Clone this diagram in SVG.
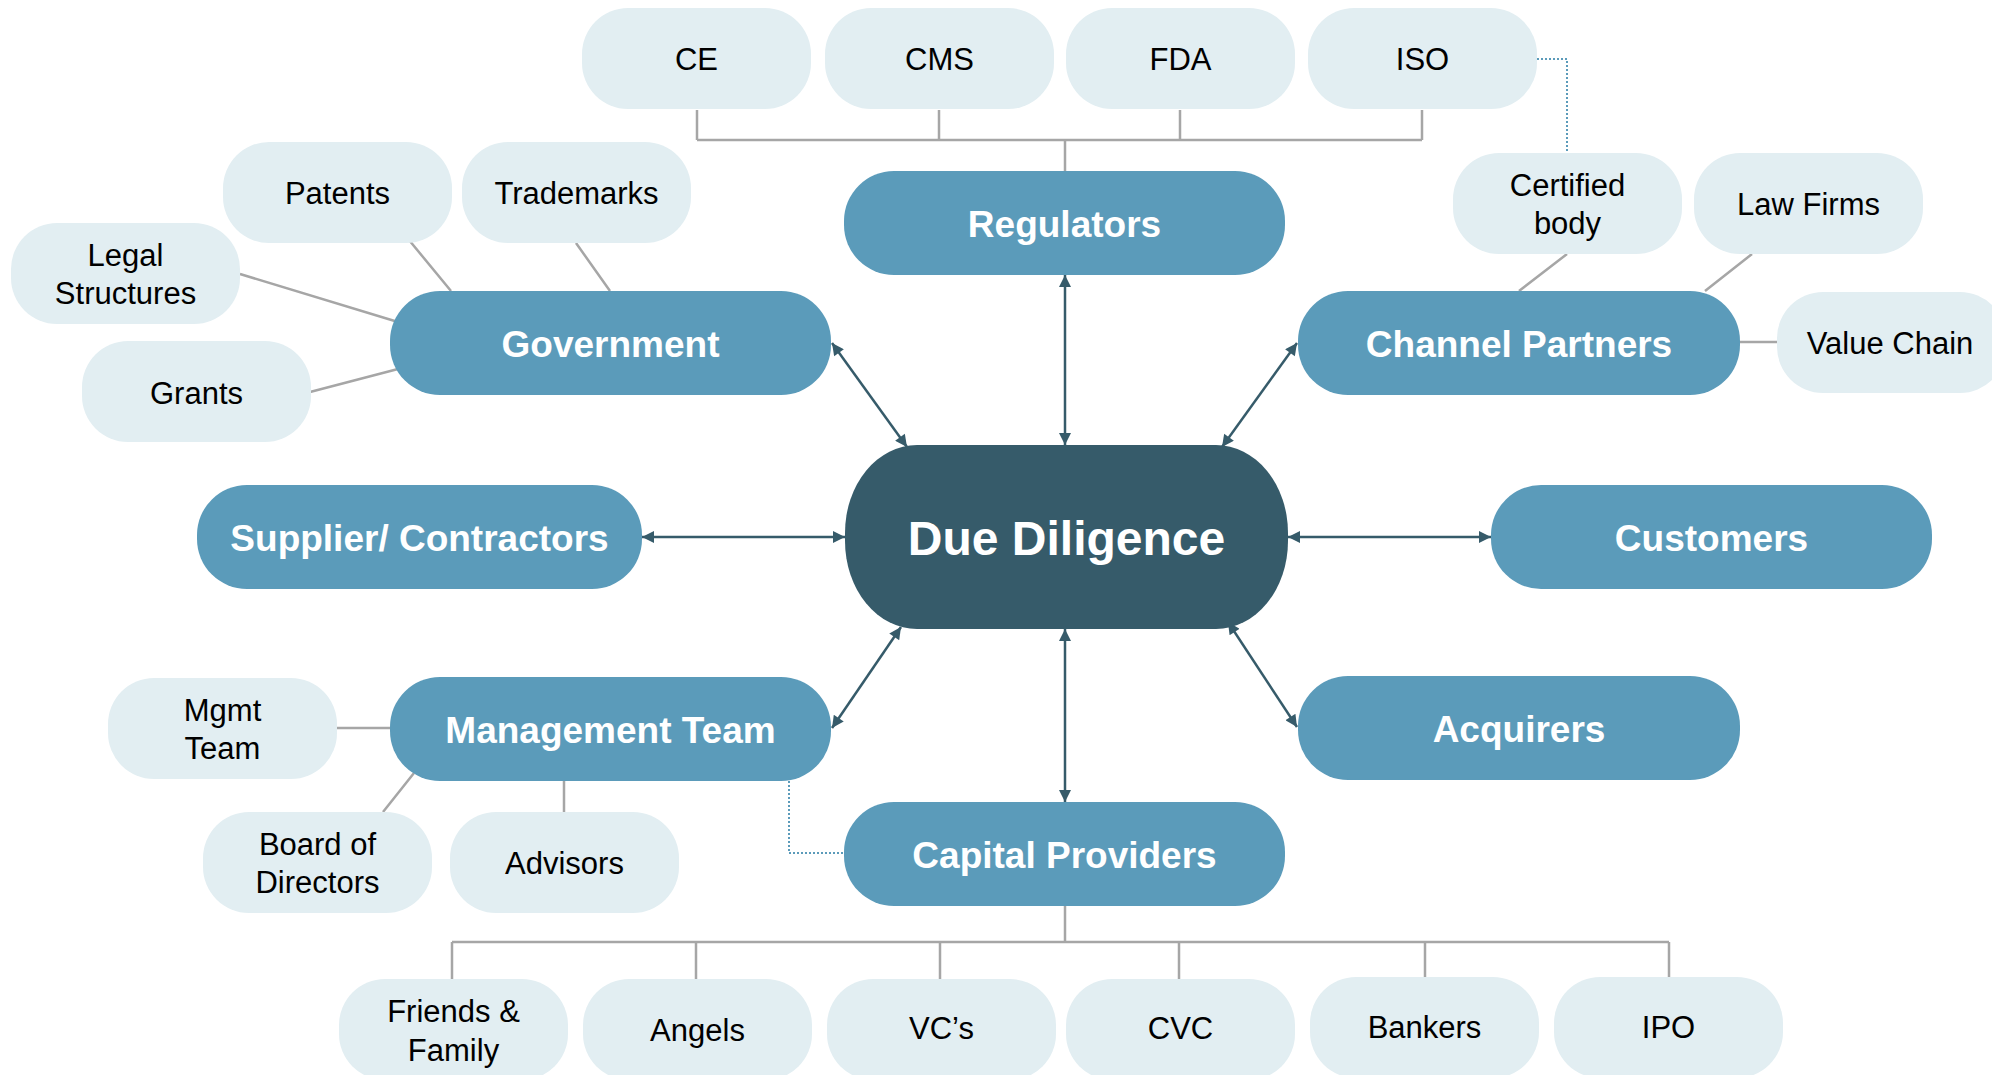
<svg xmlns="http://www.w3.org/2000/svg" width="1992" height="1075" viewBox="0 0 1992 1075">
<defs>
<style>
.lt rect{fill:#e2eef2}
.lt text{font-family:"Liberation Sans",Arial,sans-serif;font-size:31px;fill:#000;text-anchor:middle;dominant-baseline:central}
.bl rect{fill:#5b9bba}
.bl text{font-family:"Liberation Sans",Arial,sans-serif;font-size:37px;font-weight:bold;fill:#fff;text-anchor:middle;dominant-baseline:central}
.dd rect{fill:#365b6a}
.dd text{font-family:"Liberation Sans",Arial,sans-serif;font-size:48px;font-weight:bold;fill:#fff;text-anchor:middle;dominant-baseline:central}
.gl{stroke:#a6a6a6;stroke-width:2.5;fill:none}
.dot{stroke:#5b9bba;stroke-width:2;stroke-dasharray:2 2;fill:none}
.ar{stroke:#365b6a;stroke-width:2.5;fill:none;marker-start:url(#ah);marker-end:url(#ah)}
</style>
<marker id="ah" viewBox="0 0 10 10" refX="10" refY="5" markerWidth="15" markerHeight="12" markerUnits="userSpaceOnUse" orient="auto-start-reverse">
<path d="M0,0 L10,5 L0,10 z" fill="#365b6a"/>
</marker>
</defs>

<g id="connectors">
<path class="gl" d="M697,110 V140 M939,110 V140 M1180,110 V140 M1422,110 V140 M697,140 H1422 M1065,140 V171"/>
<path class="gl" d="M409,240 L451,291 M576,243 L610,291 M240,274 L398,322 M310,392 L398,369"/>
<path class="gl" d="M1567,254 L1519,291 M1752,254 L1705,291 M1740,342 H1777"/>
<path class="gl" d="M337,728 H390 M383,812 L414,773 M564,781 V812"/>
<path class="gl" d="M1065,906 V942 M452,942 H1669 M452,942 V979 M696,942 V979 M940,942 V979 M1179,942 V979 M1425,942 V977 M1669,942 V977"/>
<path class="dot" d="M1537,59 H1567 V153"/>
<path class="dot" d="M789,781 V853 H844"/>
<line class="ar" x1="1065" y1="445" x2="1065" y2="275"/>
<line class="ar" x1="1065" y1="629" x2="1065" y2="802"/>
<line class="ar" x1="845" y1="537" x2="642" y2="537"/>
<line class="ar" x1="1288" y1="537" x2="1491" y2="537"/>
<line class="ar" x1="907" y1="447" x2="832" y2="343"/>
<line class="ar" x1="1222" y1="447" x2="1297" y2="343"/>
<line class="ar" x1="901" y1="627" x2="832" y2="728"/>
<line class="ar" x1="1228" y1="622" x2="1297" y2="727"/>
</g>

<g id="n-ce" class="lt"><rect x="582" y="8" width="229" height="101" rx="46"/><text x="696.5" y="59">CE</text></g>
<g id="n-cms" class="lt"><rect x="825" y="8" width="229" height="101" rx="46"/><text x="939.5" y="59">CMS</text></g>
<g id="n-fda" class="lt"><rect x="1066" y="8" width="229" height="101" rx="46"/><text x="1180.5" y="59">FDA</text></g>
<g id="n-iso" class="lt"><rect x="1308" y="8" width="229" height="101" rx="46"/><text x="1422.5" y="59">ISO</text></g>

<g id="n-patents" class="lt"><rect x="223" y="142" width="229" height="101" rx="46"/><text x="337.5" y="193">Patents</text></g>
<g id="n-trademarks" class="lt"><rect x="462" y="142" width="229" height="101" rx="46"/><text x="576.5" y="193">Trademarks</text></g>
<g id="n-legal" class="lt"><rect x="11" y="223" width="229" height="101" rx="46"/><text x="125.5" y="255">Legal</text><text x="125.5" y="293">Structures</text></g>
<g id="n-grants" class="lt"><rect x="82" y="341" width="229" height="101" rx="46"/><text x="196.5" y="393">Grants</text></g>

<g id="n-certified" class="lt"><rect x="1453" y="153" width="229" height="101" rx="46"/><text x="1567.5" y="185">Certified</text><text x="1567.5" y="223">body</text></g>
<g id="n-lawfirms" class="lt"><rect x="1694" y="153" width="229" height="101" rx="46"/><text x="1808.5" y="204">Law Firms</text></g>
<g id="n-valuechain" class="lt"><rect x="1777" y="292" width="229" height="101" rx="46"/><text x="1890" y="343">Value Chain</text></g>

<g id="n-mgmtteam" class="lt"><rect x="108" y="678" width="229" height="101" rx="46"/><text x="222.5" y="710">Mgmt</text><text x="222.5" y="748">Team</text></g>
<g id="n-board" class="lt"><rect x="203" y="812" width="229" height="101" rx="46"/><text x="317.5" y="844">Board of</text><text x="317.5" y="882">Directors</text></g>
<g id="n-advisors" class="lt"><rect x="450" y="812" width="229" height="101" rx="46"/><text x="564.5" y="863">Advisors</text></g>

<g id="n-friends" class="lt"><rect x="339" y="979" width="229" height="101" rx="46"/><text x="453.5" y="1011">Friends &amp;</text><text x="453.5" y="1050">Family</text></g>
<g id="n-angels" class="lt"><rect x="583" y="979" width="229" height="101" rx="46"/><text x="697.5" y="1030">Angels</text></g>
<g id="n-vcs" class="lt"><rect x="827" y="979" width="229" height="101" rx="46"/><text x="941.5" y="1028">VC’s</text></g>
<g id="n-cvc" class="lt"><rect x="1066" y="979" width="229" height="101" rx="46"/><text x="1180.5" y="1028">CVC</text></g>
<g id="n-bankers" class="lt"><rect x="1310" y="977" width="229" height="101" rx="46"/><text x="1424.5" y="1027">Bankers</text></g>
<g id="n-ipo" class="lt"><rect x="1554" y="977" width="229" height="101" rx="46"/><text x="1668.5" y="1027">IPO</text></g>

<g id="n-regulators" class="bl"><rect x="844" y="171" width="441" height="104" rx="50"/><text x="1064.5" y="224">Regulators</text></g>
<g id="n-government" class="bl"><rect x="390" y="291" width="441" height="104" rx="50"/><text x="610.5" y="344">Government</text></g>
<g id="n-channel" class="bl"><rect x="1298" y="291" width="442" height="104" rx="50"/><text x="1519" y="344">Channel Partners</text></g>
<g id="n-supplier" class="bl"><rect x="197" y="485" width="445" height="104" rx="50"/><text x="419.5" y="538">Supplier/ Contractors</text></g>
<g id="n-customers" class="bl"><rect x="1491" y="485" width="441" height="104" rx="50"/><text x="1711.5" y="538">Customers</text></g>
<g id="n-mgmt" class="bl"><rect x="390" y="677" width="441" height="104" rx="50"/><text x="610.5" y="730">Management Team</text></g>
<g id="n-acquirers" class="bl"><rect x="1298" y="676" width="442" height="104" rx="50"/><text x="1519" y="729">Acquirers</text></g>
<g id="n-capital" class="bl"><rect x="844" y="802" width="441" height="104" rx="50"/><text x="1064.5" y="855">Capital Providers</text></g>

<g id="n-duediligence" class="dd"><rect x="845" y="445" width="443" height="184" rx="72" ry="88"/><text x="1066.5" y="538">Due Diligence</text></g>
</svg>
